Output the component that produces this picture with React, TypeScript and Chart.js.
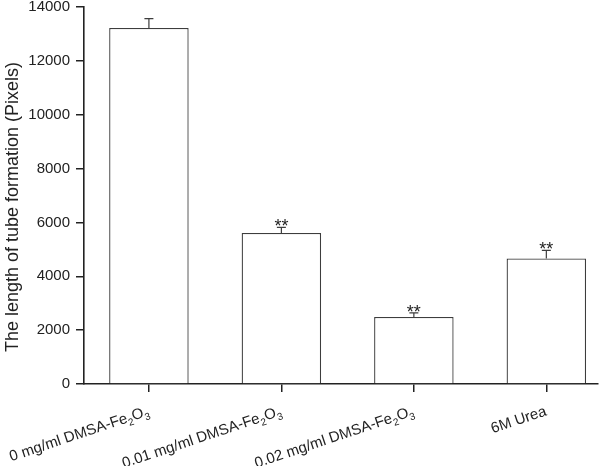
import React, { useEffect, useRef } from "react";
import { Chart, registerables } from "chart.js";

Chart.register(...registerables);

const categories = [
  "0 mg/ml DMSA-Fe₂O₃",
  "0.01 mg/ml DMSA-Fe₂O₃",
  "0.02 mg/ml DMSA-Fe₂O₃",
  "6M Urea",
];
const positions = [1, 2, 3, 4];
const values = [13220, 5610, 2490, 4665];
const errors = [345, 205, 150, 295];
const significance = ["", "**", "**", "**"];
const yTicks = [0, 2000, 4000, 6000, 8000, 10000, 12000, 14000];
const yTitle = "The length of tube formation (Pixels)";

const FONT = "'Liberation Sans', Arial, sans-serif";
const INK = "#222222";
const BAR_LINE = "#3d3d3d";

const subMap: Record<string, string> = { "₀": "0", "₁": "1", "₂": "2", "₃": "3", "₄": "4" };

function splitSegments(label: string) {
  const segs: { text: string; sub: boolean }[] = [];
  for (const ch of label) {
    const sub = ch in subMap;
    const t = sub ? subMap[ch] : ch;
    const last = segs[segs.length - 1];
    if (last && last.sub === sub) last.text += t;
    else segs.push({ text: t, sub });
  }
  return segs;
}

const decorPlugin = {
  id: "decor",
  afterDatasetsDraw(chart: any) {
    const ctx = chart.ctx;
    const meta = chart.getDatasetMeta(0);
    const yScale = chart.scales.y;
    ctx.save();
    meta.data.forEach((el: any, i: number) => {
      const x = el.x;
      const yBar = el.y;
      const yTop = yScale.getPixelForValue(values[i] + errors[i]);
      ctx.strokeStyle = BAR_LINE;
      ctx.lineWidth = 1.2;
      ctx.beginPath();
      ctx.moveTo(x, yBar);
      ctx.lineTo(x, yTop);
      ctx.moveTo(x - 4.5, yTop);
      ctx.lineTo(x + 4.5, yTop);
      ctx.stroke();
      if (significance[i]) {
        ctx.fillStyle = INK;
        ctx.font = `18px ${FONT}`;
        ctx.textAlign = "center";
        ctx.textBaseline = "alphabetic";
        ctx.fillText(significance[i], x, yTop + 5);
      }
    });
    ctx.restore();
  },
  afterDraw(chart: any) {
    const ctx = chart.ctx;
    const xScale = chart.scales.x;
    const area = chart.chartArea;
    const angle = (18.5 * Math.PI) / 180;
    ctx.save();
    ctx.fillStyle = INK;
    categories.forEach((label, i) => {
      const tx = xScale.getPixelForValue(positions[i]);
      const segs = splitSegments(label);
      const mainFont = `15px ${FONT}`;
      const subFont = `10px ${FONT}`;
      let total = 0;
      const widths = segs.map((s) => {
        ctx.font = s.sub ? subFont : mainFont;
        const w = ctx.measureText(s.text).width;
        total += w;
        return w;
      });
      ctx.save();
      ctx.translate(tx + 1, area.bottom + 31);
      ctx.rotate(-angle);
      ctx.textAlign = "left";
      ctx.textBaseline = "alphabetic";
      let cx = -total;
      segs.forEach((s, j) => {
        ctx.font = s.sub ? subFont : mainFont;
        ctx.fillText(s.text, cx, s.sub ? 4 : 0);
        cx += widths[j];
      });
      ctx.restore();
    });
    // y-axis title
    ctx.save();
    ctx.translate(18, 207);
    ctx.rotate(-Math.PI / 2);
    ctx.font = `18px ${FONT}`;
    ctx.textAlign = "center";
    ctx.textBaseline = "alphabetic";
    ctx.fillText(yTitle, 0, 0);
    ctx.restore();
    ctx.restore();
  },
};

export default function App() {
  const ref = useRef<HTMLCanvasElement | null>(null);
  useEffect(() => {
    document.body.style.margin = "0";
    const canvas = ref.current!;
    const chart = new Chart(canvas, {
      type: "bar",
      data: {
        datasets: [
          {
            data: positions.map((p, i) => ({ x: p, y: values[i] })),
            backgroundColor: "#ffffff",
            borderColor: BAR_LINE,
            borderWidth: 1.3,
            categoryPercentage: 1,
            barPercentage: 0.6,
          },
        ],
      },
      options: {
        animation: false,
        responsive: false,
        devicePixelRatio: 1,
        layout: { padding: { left: 0, right: 2, top: 7, bottom: 0 } },
        plugins: { legend: { display: false }, tooltip: { enabled: false } },
        scales: {
          x: {
            type: "linear",
            min: 0.51,
            max: 4.39,
            offset: false,
            afterBuildTicks: (s: any) => {
              s.ticks = positions.map((v) => ({ value: v }));
            },
            afterFit: (s: any) => {
              s.height = 82;
              s.paddingLeft = 0;
              s.paddingRight = 0;
            },
            ticks: { display: false },
            grid: {
              display: true,
              offset: false,
              drawOnChartArea: false,
              drawTicks: true,
              tickLength: 8,
              color: INK,
              lineWidth: 1.5,
            },
            border: { display: true, color: INK, width: 1.6 },
          },
          y: {
            type: "linear",
            min: 0,
            max: 14000,
            afterBuildTicks: (s: any) => {
              s.ticks = yTicks.map((v) => ({ value: v }));
            },
            afterFit: (s: any) => {
              s.width = 84;
              s.paddingTop = 0;
              s.paddingBottom = 0;
            },
            ticks: {
              padding: 6,
              color: INK,
              font: { family: FONT, size: 15 },
              callback: (v: any) => String(v),
            },
            grid: {
              display: true,
              drawOnChartArea: false,
              drawTicks: true,
              tickLength: 8,
              color: INK,
              lineWidth: 1.5,
            },
            border: { display: true, color: INK, width: 1.6 },
          },
        },
      },
      plugins: [decorPlugin],
    } as any);
    return () => chart.destroy();
  }, []);
  return <canvas ref={ref} width={600} height={466} style={{ display: "block" }} />;
}
